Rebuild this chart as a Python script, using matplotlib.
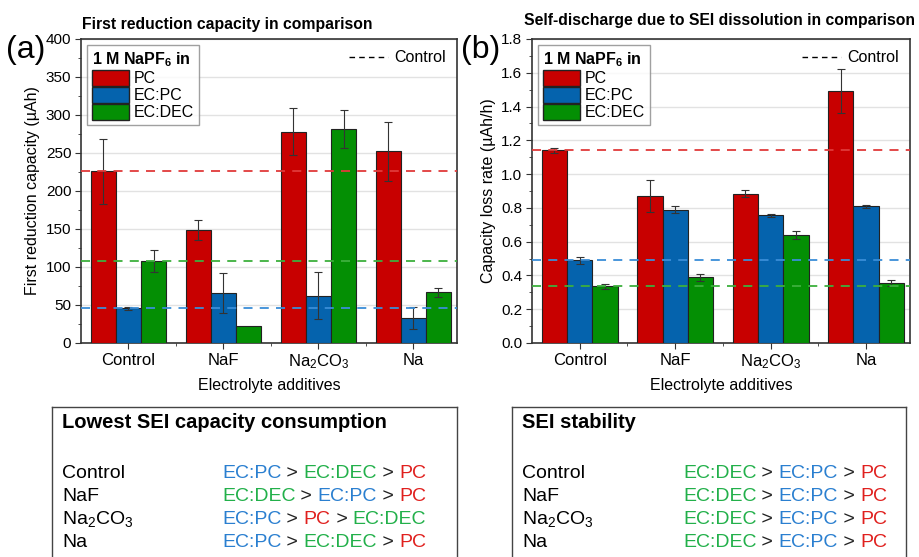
import numpy as np
import matplotlib
matplotlib.use('Agg')
import matplotlib.pyplot as plt
from matplotlib.patches import Patch
from matplotlib.lines import Line2D

plt.rcParams['font.family'] = ['Liberation Sans', 'DejaVu Sans']
plt.rcParams['mathtext.default'] = 'regular'

# data
categories = ['Control', 'NaF', 'Na$_2$CO$_3$', 'Na']
solvents = ['PC', 'EC:PC', 'EC:DEC']

cap_pc = [226, 149, 278, 252]
cap_pc_err = [43, 13, 31, 39]
cap_ecpc = [46, 66, 62, 33]
cap_ecpc_err = [2, 26, 31, 15]
cap_ecdec = [108, 22, 282, 67]
cap_ecdec_err = [15, np.nan, 25, 6]

loss_pc = [1.14, 0.87, 0.885, 1.49]
loss_pc_err = [0.015, 0.095, 0.02, 0.13]
loss_ecpc = [0.49, 0.79, 0.755, 0.81]
loss_ecpc_err = [0.022, 0.02, 0.008, 0.008]
loss_ecdec = [0.335, 0.39, 0.64, 0.355]
loss_ecdec_err = [0.015, 0.02, 0.025, 0.02]

rank_rows = ['Control', 'NaF', 'Na$_2$CO$_3$', 'Na']
rank_capacity = [['EC:PC', 'EC:DEC', 'PC'],
                 ['EC:DEC', 'EC:PC', 'PC'],
                 ['EC:PC', 'PC', 'EC:DEC'],
                 ['EC:PC', 'EC:DEC', 'PC']]
rank_stability = [['EC:DEC', 'EC:PC', 'PC'],
                  ['EC:DEC', 'EC:PC', 'PC'],
                  ['EC:DEC', 'EC:PC', 'PC'],
                  ['EC:DEC', 'EC:PC', 'PC']]

bar_colors = {'PC': '#C80000', 'EC:PC': '#0563AD', 'EC:DEC': '#048F04'}
line_colors = {'PC': '#E03A3A', 'EC:PC': '#3A8ED8', 'EC:DEC': '#3DB03D'}
text_colors = {'PC': '#E0201E', 'EC:PC': '#2A7FD0', 'EC:DEC': '#22B04A'}

fig = plt.figure(figsize=(9.19, 5.57), dpi=100)
W, H = 919, 557


def px_axes(x0, y0, x1, y1):
    return fig.add_axes([x0 / W, 1 - y1 / H, (x1 - x0) / W, (y1 - y0) / H])


def bar_panel(ax, series, errs, ymax, major, minor, ylabel, fmt):
    x = np.arange(len(categories))
    w = 0.265
    for i, (s, vals, e) in enumerate(zip(solvents, series, errs)):
        ax.bar(x + (i - 1) * w, vals, w, color=bar_colors[s], edgecolor='#222222',
               linewidth=0.8, zorder=3, label=s)
        ax.errorbar(x + (i - 1) * w, vals, yerr=e, fmt='none', ecolor='#333333',
                    elinewidth=0.8, capsize=3, capthick=0.8, zorder=4)
        ax.axhline(vals[0], color=line_colors[s], ls=(0, (5, 4)), lw=1.3, zorder=5)
    ax.set_xlim(-0.5, 3.46)
    ax.set_ylim(0, ymax)
    ax.set_yticks(np.arange(0, ymax + 1e-9, major))
    ax.set_yticks(np.arange(0, ymax + 1e-9, minor), minor=True)
    ax.yaxis.set_major_formatter(plt.FormatStrFormatter(fmt))
    ax.set_xticks(x)
    ax.set_xticks(x[:-1] + 0.5, minor=True)
    ax.set_xticklabels(categories, fontsize=12)
    ax.grid(axis='y', color='#e2e2e2', lw=1, zorder=0)
    ax.tick_params(axis='y', which='major', labelsize=11)
    ax.tick_params(axis='both', which='major', length=4,
                   direction='out', color='#333333', pad=3)
    ax.tick_params(axis='both', which='minor', length=2.5, direction='out',
                   color='#333333')
    for sp in ax.spines.values():
        sp.set_color('#333333')
        sp.set_linewidth(1.2)
    ax.set_ylabel(ylabel, fontsize=11.5, labelpad=4)
    ax.set_xlabel('Electrolyte additives', fontsize=11.5, labelpad=5)

    handles = [Patch(facecolor=bar_colors[s], edgecolor='#222222', label=s) for s in solvents]
    leg = ax.legend(handles=handles, loc='upper left', title='1 M NaPF$_6$ in',
                    fontsize=11.5, title_fontproperties={'weight': 'bold', 'size': 11.5},
                    frameon=True, fancybox=False, edgecolor='#888888',
                    handlelength=2.3, handleheight=1.15, handletextpad=0.3,
                    borderpad=0.3, labelspacing=0.05, borderaxespad=0.4)
    leg._legend_box.align = 'left'
    leg.set_zorder(10)
    ax.add_artist(leg)
    ctrl = Line2D([], [], color='black', ls=(0, (4, 3)), lw=1, label='Control')
    ax.legend(handles=[ctrl], loc='upper right', frameon=False, fontsize=11.5,
              handlelength=2.4, handletextpad=0.4, borderaxespad=0.3)


ax1 = px_axes(81, 39, 457, 343)
bar_panel(ax1, [cap_pc, cap_ecpc, cap_ecdec], [cap_pc_err, cap_ecpc_err, cap_ecdec_err],
          400, 50, 25, 'First reduction capacity (µAh)', '%d')
fig.text(82 / W, 1 - 25 / H, 'First reduction capacity in comparison',
         fontsize=11.3, fontweight='bold', ha='left', va='center')

ax2 = px_axes(532, 39, 910, 343)
bar_panel(ax2, [loss_pc, loss_ecpc, loss_ecdec],
          [loss_pc_err, loss_ecpc_err, loss_ecdec_err],
          1.8, 0.2, 0.1, 'Capacity loss rate (µAh/h)', '%.1f')
fig.text(915 / W, 1 - 20 / H, 'Self-discharge due to SEI dissolution in comparison',
         fontsize=11.3, fontweight='bold', ha='right', va='center')

fig.text(6 / W, 1 - 50 / H, '(a)', fontsize=23, va='center', ha='left')
fig.text(461 / W, 1 - 50 / H, '(b)', fontsize=23, va='center', ha='left')


def rank_box(x0, x1, title, rankings, col_x):
    ax = px_axes(x0, 407, x1, 580)
    ax.set_xticks([])
    ax.set_yticks([])
    for sp in ax.spines.values():
        sp.set_color('#444444')
        sp.set_linewidth(1)
    ax.set_xlim(x0, x1)
    ax.set_ylim(580, 407)
    ax.text(x0 + 10, 423, title, fontsize=14.5, fontweight='bold', va='center', ha='left')
    fig.canvas.draw()
    rend = fig.canvas.get_renderer()
    for i, (row, order) in enumerate(zip(rank_rows, rankings)):
        y = 478 + i * 23
        ax.text(x0 + 10, y, row, fontsize=14, va='baseline', ha='left')
        xt = col_x
        for j, s in enumerate(order):
            t = ax.text(xt, y, s, fontsize=14, va='baseline', ha='left',
                        color=text_colors[s])
            xt = xt + t.get_window_extent(renderer=rend).width
            if j < len(order) - 1:
                t2 = ax.text(xt, y, ' > ', fontsize=14, va='baseline', ha='left',
                             color='#222222')
                xt = xt + t2.get_window_extent(renderer=rend).width


rank_box(52, 457, 'Lowest SEI capacity consumption', rank_capacity, 222)
rank_box(512, 906, 'SEI stability', rank_stability, 683)

fig.savefig('out.png', dpi=100)
